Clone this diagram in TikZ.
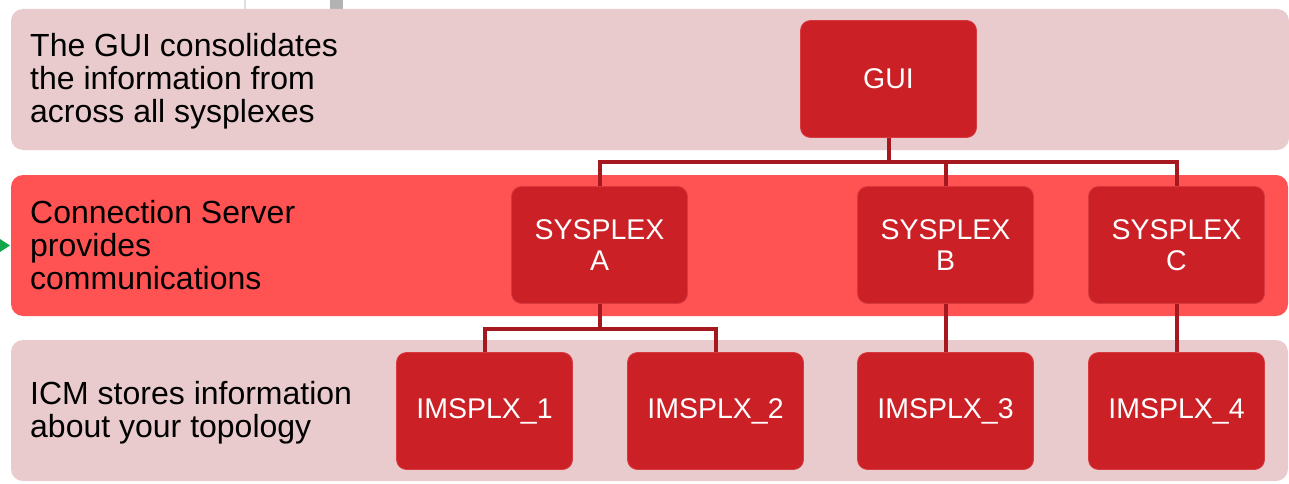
\documentclass[tikz,border=0pt]{standalone}
\usepackage{fontspec}
\setmainfont{Liberation Sans}
\definecolor{bandlight}{HTML}{EACBCD}
\definecolor{bandred}{HTML}{FF5353}
\definecolor{boxred}{HTML}{CC2027}
\definecolor{boxedge}{HTML}{D7393F}
\definecolor{connred}{HTML}{A6181F}
\definecolor{arrowgreen}{HTML}{12A84A}
\begin{document}
\begin{tikzpicture}[x=1pt,y=-1pt,
  band/.style={rounded corners=12pt},
  unit/.style={draw=boxedge, line width=0.8pt, fill=boxred, rounded corners=10pt,
    minimum width=176pt, minimum height=117pt, inner sep=0pt, text=white,
    align=center, font=\fontsize{28.5}{31}\selectfont},
  flat/.style={text depth=0pt},
  label/.style={anchor=west, align=left, inner sep=0pt, text=black,
    font=\fontsize{32}{33}\selectfont},
  conn/.style={draw=connred, line width=4pt, line join=miter}]
\useasboundingbox (0,0) rectangle (1289,484);
% screenshot artifacts
\fill[gray!25] (244,0) rectangle (246,9);
\fill[gray!60] (330,0) rectangle (343,9);
\fill[arrowgreen] (0,239) -- (10,245.5) -- (0,252) -- cycle;
% bands
\fill[bandlight, band] (11,9) rectangle (1289,150);
\fill[bandred, band] (11,175) rectangle (1288,316);
\fill[bandlight, band] (11,340) rectangle (1288,481);
% labels
\node[label] (t1) at (30,81) {The GUI consolidates\\the information from\\across all sysplexes};
\node[label] (t2) at (30,245) {Connection Server\\provides\\communications};
\node[label] (t3) at (30,413) {ICM stores information\\about your topology};
% boxes
\node[unit] (gui) at (888.5,79) {GUI};
\node[unit] (sa) at (599.5,245) {SYSPLEX\\A};
\node[unit] (sb) at (945.5,245) {SYSPLEX\\B};
\node[unit] (sc) at (1176.5,245) {SYSPLEX\\C};
\node[unit] (i1) at (484.5,411) {\raisebox{-3pt}{IMSPLX\_1}};
\node[unit] (i2) at (715.5,411) {\raisebox{-3pt}{IMSPLX\_2}};
\node[unit] (i3) at (945.5,411) {\raisebox{-3pt}{IMSPLX\_3}};
\node[unit] (i4) at (1176.5,411) {\raisebox{-3pt}{IMSPLX\_4}};
% connectors
\draw[conn] (gui.south) -- ++(0,24) -| (sa.north);
\draw[conn] (gui.south) -- ++(0,24) -| (sb.north);
\draw[conn] (gui.south) -- ++(0,24) -| (sc.north);
\draw[conn] (sa.south) -- ++(0,25) -| (i1.north);
\draw[conn] (sa.south) -- ++(0,25) -| (i2.north);
\draw[conn] (sb.south) -- (i3.north);
\draw[conn] (sc.south) -- (i4.north);
\end{tikzpicture}
\end{document}
